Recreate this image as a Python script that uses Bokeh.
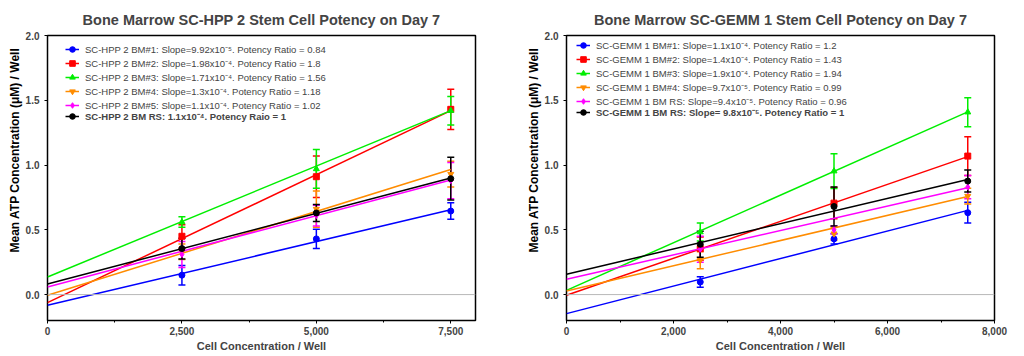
from bokeh.plotting import figure
from bokeh.layouts import row
from bokeh.models import (ColumnDataSource, Whisker, Span, Legend, LegendItem, Title,
                          NumeralTickFormatter, FixedTicker, Range1d)
from bokeh.embed import file_html
from bokeh.resources import INLINE

# ---------------- data ----------------
x_doses = [2500, 5000, 7500]
fit_x = [0, 7500]

# Left panel: SC-HPP 2
hpp_labels = [
    "SC-HPP 2 BM#1: Slope=9.92x10\u207b\u2075. Potency Ratio = 0.84",
    "SC-HPP 2 BM#2: Slope=1.98x10\u207b\u2074. Potency Ratio = 1.8",
    "SC-HPP 2 BM#3: Slope=1.71x10\u207b\u2074. Potency Ratio = 1.56",
    "SC-HPP 2 BM#4: Slope=1.3x10\u207b\u2074. Potency Ratio = 1.18",
    "SC-HPP 2 BM#5: Slope=1.1x10\u207b\u2074. Potency Ratio = 1.02",
    "SC-HPP 2 BM RS: 1.1x10\u207b\u2074. Potency Raio = 1",
]
hpp_means = [
    [0.15, 0.43, 0.645],
    [0.45, 0.91, 1.43],
    [0.56, 0.97, 1.42],
    [0.33, 0.66, 0.93],
    [0.31, 0.61, 0.88],
    [0.355, 0.63, 0.895],
]
hpp_err = [
    [0.075, 0.075, 0.063],
    [0.09, 0.16, 0.155],
    [0.04, 0.15, 0.11],
    [0.06, 0.14, 0.10],
    [0.10, 0.08, 0.14],
    [0.08, 0.065, 0.165],
]
hpp_fit0 = [-0.083, -0.062, 0.136, -0.005, 0.059, 0.082]
hpp_fit1 = [0.655, 1.42, 1.42, 0.965, 0.885, 0.90]

# Right panel: SC-GEMM 1
gemm_labels = [
    "SC-GEMM 1 BM#1: Slope=1.1x10\u207b\u2074. Potency Ratio = 1.2",
    "SC-GEMM 1 BM#2: Slope=1.4x10\u207b\u2074. Potency Ratio = 1.43",
    "SC-GEMM 1 BM#3: Slope=1.9x10\u207b\u2074. Potency Ratio = 1.94",
    "SC-GEMM 1 BM#4: Slope=9.7x10\u207b\u2075. Potency Ratio = 0.99",
    "SC-GEMM 1 BM RS: Slope=9.4x10\u207b\u2075. Potency Ratio = 0.96",
    "SC-GEMM 1 BM RS: Slope= 9.8x10\u207b\u2075. Potency Ratio = 1",
]
gemm_means = [
    [0.097, 0.43, 0.632],
    [0.355, 0.706, 1.069],
    [0.483, 0.953, 1.408],
    [0.265, 0.47, 0.76],
    [0.35, 0.50, 0.83],
    [0.388, 0.68, 0.876],
]
gemm_err = [
    [0.04, 0.04, 0.08],
    [0.09, 0.12, 0.15],
    [0.07, 0.135, 0.112],
    [0.065, 0.05, 0.06],
    [0.10, 0.03, 0.09],
    [0.10, 0.15, 0.085],
]
gemm_fit0 = [-0.147, -0.005, 0.033, 0.028, 0.118, 0.157]
gemm_fit1 = [0.65, 1.065, 1.41, 0.758, 0.825, 0.889]

x_title = "Cell Concentration / Well"
y_title = "Mean ATP Concentration (\u03bcM) / Well"

colors = ["#0000ff", "#ff0000", "#00ee00", "#ff8c00", "#ff00ff", "#000000"]
markers = ["circle", "square", "triangle", "inverted_triangle", "diamond", "circle"]

FONT = "Liberation Sans"
ROW = 14


def make_panel(title, labels, means, errs, fit0, fit1, xmax, xticks, minor, border_left,
               leg_x, top1, top2):
    p = figure(width=512, height=356, output_backend="svg", toolbar_location=None,
               x_range=Range1d(0, xmax), y_range=Range1d(-0.2, 2.0),
               min_border_left=border_left, min_border_right=512 - border_left - 428,
               min_border_top=35, min_border_bottom=36, title=title)
    p.title.text_font = FONT
    p.title.text_font_size = "14.5px"
    p.title.text_font_style = "bold"
    p.title.align = "center"
    p.title.standoff = 16
    p.grid.visible = False
    p.outline_line_color = "black"
    p.outline_line_width = 1.5
    p.background_fill_color = "white"
    p.border_fill_color = "white"

    p.add_layout(Span(location=0, dimension="width", line_color="#b8b8b8", line_width=1))

    for ax in (p.xaxis[0], p.yaxis[0]):
        ax.axis_line_color = None
        ax.major_label_text_font = FONT
        ax.major_label_text_font_style = "bold"
        ax.major_label_text_font_size = "10px"
        ax.axis_label_text_font = FONT
        ax.axis_label_text_font_style = "bold"
        ax.axis_label_text_font_size = "11px"
        ax.major_tick_in = 0
        ax.major_tick_out = 3
        ax.minor_tick_in = 0
        ax.minor_tick_out = 2
    p.xaxis.ticker = FixedTicker(ticks=xticks, minor_ticks=minor)
    p.xaxis.formatter = NumeralTickFormatter(format="0,0")
    p.xaxis.axis_label = x_title
    p.xaxis.axis_label_standoff = 2
    p.xaxis.major_label_standoff = 3
    p.yaxis.ticker = FixedTicker(ticks=[0.0, 0.5, 1.0, 1.5, 2.0])
    p.yaxis.formatter = NumeralTickFormatter(format="0.0")

    # y-axis title, shifted upwards as in the original
    p.add_layout(Title(text=y_title, align="left", offset=68, text_font=FONT,
                       text_font_style="bold", text_font_size="12px",
                       text_color="black", standoff=2), "left")

    items = []
    for i in range(6):
        src = ColumnDataSource(dict(
            x=x_doses, y=means[i],
            lo=[m - e for m, e in zip(means[i], errs[i])],
            hi=[m + e for m, e in zip(means[i], errs[i])],
        ))
        w = Whisker(source=src, base="x", lower="lo", upper="hi",
                    line_color=colors[i], line_width=1.5)
        w.upper_head.size = 7
        w.lower_head.size = 7
        w.upper_head.line_color = colors[i]
        w.lower_head.line_color = colors[i]
        w.upper_head.line_width = 1.5
        w.lower_head.line_width = 1.5
        p.add_layout(w)
        ln = p.line(fit_x, [fit0[i], fit1[i]], line_color=colors[i], line_width=1.5)
        sc = p.scatter("x", "y", source=src, marker=markers[i], size=6,
                       fill_color=colors[i], line_color=colors[i])
        items.append(LegendItem(label=labels[i], renderers=[ln, sc]))

    frame_h = 356 - 35 - 36
    common = dict(border_line_color=None, background_fill_alpha=0, padding=0,
                  margin=0, spacing=0, glyph_width=14, glyph_height=ROW,
                  label_height=ROW, label_standoff=6, label_text_font=FONT,
                  label_text_font_size="9.5px", click_policy="none")
    leg1 = Legend(items=items[:5], location=(leg_x, frame_h - top1 - 5 * ROW), **common)
    leg2 = Legend(items=items[5:], location=(leg_x, frame_h - top2 - 6 * ROW),
                  label_text_font_style="bold", **common)
    p.add_layout(leg1)
    p.add_layout(leg2)
    return p


p1 = make_panel("Bone Marrow SC-HPP 2 Stem Cell Potency on Day 7", hpp_labels,
                hpp_means, hpp_err, hpp_fit0, hpp_fit1, 7960,
                [0, 2500, 5000, 7500], [1250, 3750, 6250], 47, 18, 7, 4)
p2 = make_panel("Bone Marrow SC-GEMM 1 Stem Cell Potency on Day 7", gemm_labels,
                gemm_means, gemm_err, gemm_fit0, gemm_fit1, 8000,
                [0, 2000, 4000, 6000, 8000], [1000, 3000, 5000, 7000], 54, 10, 3, 0)

layout = row(p1, p2, spacing=0)
open("out.html", "w").write(file_html(layout, INLINE))
